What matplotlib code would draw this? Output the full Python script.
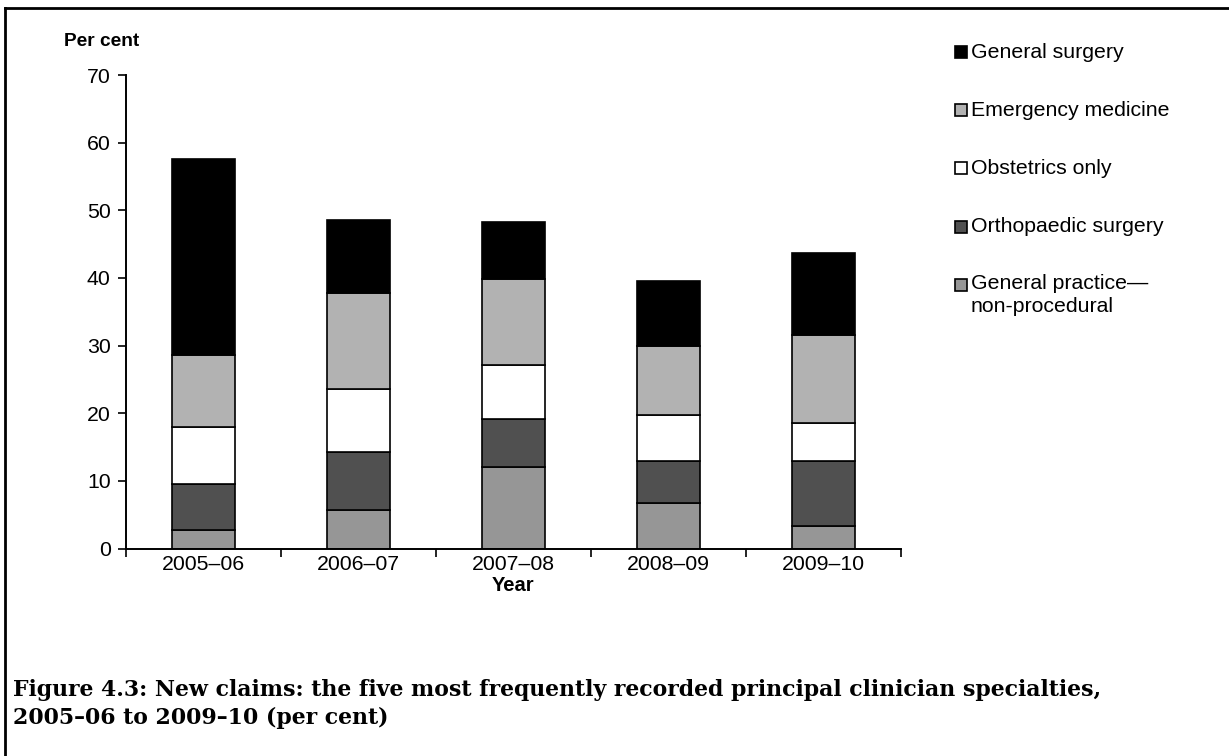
import matplotlib.pyplot as plt
import numpy as np
from matplotlib.patches import Rectangle
from matplotlib.lines import Line2D

plt.rcParams['font.family'] = ['Liberation Sans', 'DejaVu Sans']

years = ['2005–06', '2006–07', '2007–08', '2008–09', '2009–10']
specialties = ['General practice—\nnon-procedural', 'Orthopaedic surgery',
               'Obstetrics only', 'Emergency medicine', 'General surgery']
general_practice = [2.8, 5.7, 12.0, 6.7, 3.3]
orthopaedic = [6.7, 8.5, 7.2, 6.3, 9.6]
obstetrics = [8.5, 9.4, 7.9, 6.8, 5.7]
emergency = [10.6, 14.2, 12.8, 10.1, 13.0]
general_surgery = [29.0, 10.8, 8.3, 9.7, 12.1]
colours = ['#969696', '#505050', '#ffffff', '#b2b2b2', '#000000']

series = [general_practice, orthopaedic, obstetrics, emergency, general_surgery]

W, H = 1229, 756
fig = plt.figure(figsize=(W / 100, H / 100), dpi=100)
ax = fig.add_axes([126 / W, 1 - 548.5 / H, (901 - 126) / W, (548.5 - 75) / H])

x = np.arange(len(years))
bottom = np.zeros(len(years))
for vals, col, lab in zip(series, colours, specialties):
    ax.bar(x, vals, width=0.41, bottom=bottom, color=col, edgecolor='black',
           linewidth=1.2, label=lab)
    bottom += np.array(vals)

ax.set_xlim(-0.5, 4.5)
ax.set_ylim(0, 70)
ax.set_yticks(range(0, 71, 10))
ax.set_xticks(np.arange(-0.5, 5, 1))
ax.set_xticklabels([])
ax.set_xticks(x, minor=True)
ax.set_xticklabels(years, minor=True)
ax.tick_params(axis='x', which='major', length=6, width=1.2, direction='out')
ax.tick_params(axis='x', which='minor', length=0, pad=5, labelsize=15.3)
ax.tick_params(axis='y', length=6, width=1.2, direction='out', labelsize=15.3, pad=5)
for s in ['top', 'right']:
    ax.spines[s].set_visible(False)
for s in ['left', 'bottom']:
    ax.spines[s].set_linewidth(1.4)

ax.set_xlabel('Year', fontsize=14.5, fontweight='bold', labelpad=1)
fig.text(102 / W, 1 - 42 / H, 'Per cent', fontsize=13.8, fontweight='bold',
         ha='center', va='center')

# legend, top entry first
legend_y = [52, 110, 168, 227, 285]
for yy, col, lab in zip(legend_y, colours[::-1], specialties[::-1]):
    fig.add_artist(Rectangle((955 / W, 1 - (yy + 6) / H), 12 / W, 12 / H,
                             facecolor=col, edgecolor='black', linewidth=1.2,
                             transform=fig.transFigure))
    if '\n' in lab:
        fig.text(971 / W, 1 - (yy - 11) / H, lab, fontsize=15.3, ha='left',
                 va='top', linespacing=1.3)
    else:
        fig.text(971 / W, 1 - yy / H, lab, fontsize=15.3, ha='left', va='center')

fig.text(13 / W, 1 - 690 / H,
         'Figure 4.3: New claims: the five most frequently recorded principal clinician specialties,',
         fontsize=15.8, fontweight='bold', family=['DejaVu Serif'], ha='left', va='center')
fig.text(13 / W, 1 - 718 / H, '2005–06 to 2009–10 (per cent)',
         fontsize=15.8, fontweight='bold', family=['DejaVu Serif'], ha='left', va='center')

fig.add_artist(Line2D([5 / W, 5 / W], [0, 1 - 8 / H], color='black', lw=2))
fig.add_artist(Line2D([5 / W, 1], [1 - 8 / H, 1 - 8 / H], color='black', lw=2))

fig.savefig('out.png', dpi=100)
